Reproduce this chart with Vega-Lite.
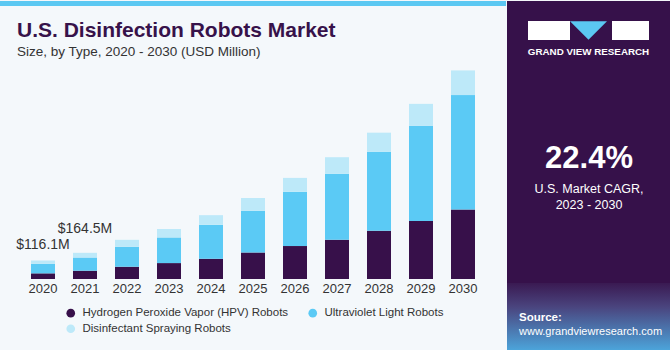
{
  "$schema": "https://vega.github.io/schema/vega-lite/v6.json",
  "padding": 0,
  "background": "#F4F8FB",
  "spacing": 0,
  "config": {"view": {"stroke": null}, "font": "Liberation Sans"},
  "resolve": {"legend": {"color": "independent"}, "scale": {"color": "independent"}},
  "hconcat": [
    {
      "width": 506,
      "height": 278,
      "title": {
        "text": "U.S. Disinfection Robots Market",
        "subtitle": "Size, by Type, 2020 - 2030 (USD Million)",
        "anchor": "start",
        "frame": "group",
        "offset": -57,
        "dx": 17,
        "fontSize": 21,
        "font": "Liberation Sans",
        "fontWeight": "bold",
        "color": "#37124A",
        "subtitleFont": "Liberation Sans",
        "subtitleFontSize": 13.5,
        "subtitleColor": "#333333",
        "subtitlePadding": 4
      },
      "layer": [
        {
          "data": {"values": [{}]},
          "mark": {"type": "rect", "x": 0, "x2": "width", "y": 0, "y2": 5, "color": "#5BC8F2"},
          "encoding": {}
        },
        {
          "data": {
            "values": [
              {"year": "2020", "type": "Hydrogen Peroxide Vapor (HPV) Robots", "value": 35.5},
              {"year": "2020", "type": "Ultraviolet Light Robots", "value": 59.5},
              {"year": "2020", "type": "Disinfectant Spraying Robots", "value": 21.1},
              {"year": "2021", "type": "Hydrogen Peroxide Vapor (HPV) Robots", "value": 52},
              {"year": "2021", "type": "Ultraviolet Light Robots", "value": 83},
              {"year": "2021", "type": "Disinfectant Spraying Robots", "value": 29.5},
              {"year": "2022", "type": "Hydrogen Peroxide Vapor (HPV) Robots", "value": 77},
              {"year": "2022", "type": "Ultraviolet Light Robots", "value": 125},
              {"year": "2022", "type": "Disinfectant Spraying Robots", "value": 44},
              {"year": "2023", "type": "Hydrogen Peroxide Vapor (HPV) Robots", "value": 100},
              {"year": "2023", "type": "Ultraviolet Light Robots", "value": 161},
              {"year": "2023", "type": "Disinfectant Spraying Robots", "value": 53},
              {"year": "2024", "type": "Hydrogen Peroxide Vapor (HPV) Robots", "value": 127},
              {"year": "2024", "type": "Ultraviolet Light Robots", "value": 213},
              {"year": "2024", "type": "Disinfectant Spraying Robots", "value": 61},
              {"year": "2025", "type": "Hydrogen Peroxide Vapor (HPV) Robots", "value": 167},
              {"year": "2025", "type": "Ultraviolet Light Robots", "value": 261},
              {"year": "2025", "type": "Disinfectant Spraying Robots", "value": 80},
              {"year": "2026", "type": "Hydrogen Peroxide Vapor (HPV) Robots", "value": 207},
              {"year": "2026", "type": "Ultraviolet Light Robots", "value": 340},
              {"year": "2026", "type": "Disinfectant Spraying Robots", "value": 88},
              {"year": "2027", "type": "Hydrogen Peroxide Vapor (HPV) Robots", "value": 246},
              {"year": "2027", "type": "Ultraviolet Light Robots", "value": 414},
              {"year": "2027", "type": "Disinfectant Spraying Robots", "value": 105},
              {"year": "2028", "type": "Hydrogen Peroxide Vapor (HPV) Robots", "value": 303},
              {"year": "2028", "type": "Ultraviolet Light Robots", "value": 495},
              {"year": "2028", "type": "Disinfectant Spraying Robots", "value": 121},
              {"year": "2029", "type": "Hydrogen Peroxide Vapor (HPV) Robots", "value": 364},
              {"year": "2029", "type": "Ultraviolet Light Robots", "value": 598},
              {"year": "2029", "type": "Disinfectant Spraying Robots", "value": 138},
              {"year": "2030", "type": "Hydrogen Peroxide Vapor (HPV) Robots", "value": 436},
              {"year": "2030", "type": "Ultraviolet Light Robots", "value": 719},
              {"year": "2030", "type": "Disinfectant Spraying Robots", "value": 155}
            ]
          },
          "transform": [
            {"calculate": "indexof(['Hydrogen Peroxide Vapor (HPV) Robots', 'Ultraviolet Light Robots', 'Disinfectant Spraying Robots'], datum.type)", "as": "stackRank"}
          ],
          "mark": {"type": "bar"},
          "encoding": {
            "x": {
              "field": "year", "type": "ordinal",
              "scale": {"paddingInner": 0.4286, "paddingOuter": 0.738},
              "axis": {"title": null, "labelAngle": 0, "ticks": false, "domain": false, "labelFontSize": 13, "labelColor": "#333333", "labelPadding": 3, "labelFont": "Liberation Sans"}
            },
            "y": {"field": "value", "type": "quantitative", "stack": "zero", "scale": {"domain": [0, 1746], "nice": false}, "axis": null},
            "order": {"field": "stackRank", "type": "quantitative", "sort": "ascending"},
            "color": {
              "field": "type", "type": "nominal",
              "sort": ["Hydrogen Peroxide Vapor (HPV) Robots", "Ultraviolet Light Robots", "Disinfectant Spraying Robots"],
              "scale": {
                "domain": ["Hydrogen Peroxide Vapor (HPV) Robots", "Ultraviolet Light Robots", "Disinfectant Spraying Robots"],
                "range": ["#37104A", "#5BCAF5", "#BDE9F9"]
              },
              "legend": {
                "title": null, "orient": "none", "legendX": 65, "legendY": 306, "direction": "horizontal", "columns": 2,
                "padding": 0,
                "symbolType": "circle", "symbolSize": 75, "symbolStrokeWidth": 0,
                "labelFontSize": 11.5, "labelColor": "#333333", "labelFont": "Liberation Sans", "labelLimit": 400, "labelOffset": 6,
                "columnPadding": 18, "rowPadding": 3
              }
            }
          }
        },
        {
          "data": {
            "values": [
              {"year": "2020", "total": 116.1, "label": "$116.1M"},
              {"year": "2021", "total": 164.5, "label": "$164.5M"}
            ]
          },
          "layer": [
            {
              "transform": [{"filter": "datum.year == '2020'"}],
              "mark": {"type": "text", "baseline": "bottom", "dy": -9, "fontSize": 14, "color": "#333333"},
              "encoding": {
                "x": {
                  "field": "year", "type": "ordinal",
                  "axis": {"title": null, "labelAngle": 0, "ticks": false, "domain": false, "labelFontSize": 13, "labelColor": "#333333", "labelPadding": 3, "labelFont": "Liberation Sans"}
                },
                "y": {"field": "total", "type": "quantitative", "axis": null},
                "text": {"field": "label"}
              }
            },
            {
              "transform": [{"filter": "datum.year == '2021'"}],
              "mark": {"type": "text", "baseline": "bottom", "dy": -17, "fontSize": 14, "color": "#333333"},
              "encoding": {
                "x": {
                  "field": "year", "type": "ordinal",
                  "axis": {"title": null, "labelAngle": 0, "ticks": false, "domain": false, "labelFontSize": 13, "labelColor": "#333333", "labelPadding": 3, "labelFont": "Liberation Sans"}
                },
                "y": {"field": "total", "type": "quantitative", "axis": null},
                "text": {"field": "label"}
              }
            }
          ]
        }
      ]
    },
    {
      "width": 164,
      "height": 350,
      "data": {"values": [{}]},
      "layer": [
        {"mark": {"type": "rect", "x": 0, "x2": "width", "y": 0, "y2": "height", "color": "#36114A"}, "encoding": {}},
        {"mark": {"type": "rect", "x": 0, "x2": "width", "y": 282, "y2": "height",
          "fill": {"gradient": "linear", "x1": 0, "y1": 0, "x2": 0, "y2": 1,
            "stops": [{"offset": 0, "color": "#3A1A52"}, {"offset": 0.35, "color": "#4A447E"}, {"offset": 1, "color": "#4CA6DC"}]}}, "encoding": {}},
        {"mark": {"type": "rect", "x": 21, "x2": 63, "y": 20, "y2": 39, "color": "#FFFFFF"}, "encoding": {}},
        {"mark": {"type": "rect", "x": 105, "x2": 142, "y": 20, "y2": 39, "color": "#FFFFFF"}, "encoding": {}},
        {"mark": {"type": "point", "x": 81.5, "y": 29.5, "shape": "M-1,-0.5L1,-0.5L0,0.5Z", "size": 1369, "filled": true, "opacity": 1, "color": "#5BC8F2", "strokeWidth": 0}, "encoding": {}},
        {"mark": {"type": "rule", "x": 38, "x2": 63, "y": 31.5, "y2": 31.5, "color": "#36114A", "strokeWidth": 1.2}, "encoding": {}},
        {"mark": {"type": "rule", "x": 38, "x2": 38, "y": 31.5, "y2": 39, "color": "#36114A", "strokeWidth": 1.2}, "encoding": {}},
        {"mark": {"type": "rule", "x": 129, "x2": 142, "y": 29, "y2": 35, "color": "#36114A", "strokeWidth": 1.2}, "encoding": {}},
        {"mark": {"type": "text", "text": "GRAND VIEW RESEARCH", "x": 81.5, "y": 54, "align": "center", "baseline": "alphabetic", "fontSize": 9.8, "fontWeight": "bold", "color": "#FFFFFF"}, "encoding": {}},
        {"mark": {"type": "text", "text": "22.4%", "x": 82, "y": 167, "align": "center", "baseline": "alphabetic", "fontSize": 31, "fontWeight": "bold", "color": "#FFFFFF"}, "encoding": {}},
        {"mark": {"type": "rule", "x": 28, "x2": 135, "y": 173.5, "y2": 173.5, "color": "#D6CFE0", "strokeWidth": 1}, "encoding": {}},
        {"mark": {"type": "text", "text": "U.S. Market CAGR,", "x": 82, "y": 192, "align": "center", "baseline": "alphabetic", "fontSize": 12.5, "color": "#FFFFFF"}, "encoding": {}},
        {"mark": {"type": "text", "text": "2023 - 2030", "x": 82, "y": 207.5, "align": "center", "baseline": "alphabetic", "fontSize": 12.5, "color": "#FFFFFF"}, "encoding": {}},
        {"mark": {"type": "text", "text": "Source:", "x": 12, "y": 320, "align": "left", "baseline": "alphabetic", "fontSize": 11.5, "fontWeight": "bold", "color": "#FFFFFF"}, "encoding": {}},
        {"mark": {"type": "text", "text": "www.grandviewresearch.com", "x": 12, "y": 333.5, "align": "left", "baseline": "alphabetic", "fontSize": 11, "color": "#FFFFFF"}, "encoding": {}}
      ]
    }
  ]
}
